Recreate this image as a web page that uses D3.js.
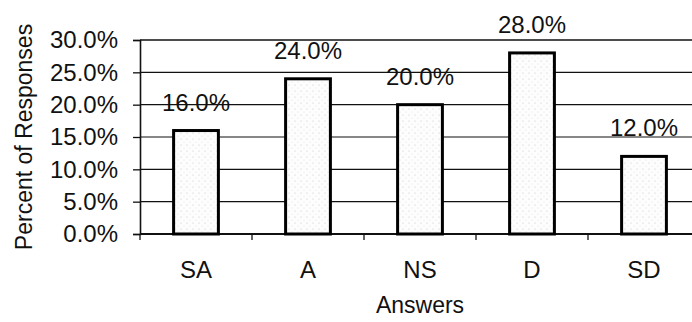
<!DOCTYPE html>
<html>
<head>
<meta charset="utf-8">
<script src="https://cdn.jsdelivr.net/npm/d3@7"></script>
<style>
  html, body { margin: 0; padding: 0; background: #fff; }
  svg { display: block; font-family: "Liberation Sans", Arial, sans-serif; }
</style>
</head>
<body>
<svg id="chart" width="692" height="322"></svg>
<script>
// Survey answer distribution
const categories = ["SA", "A", "NS", "D", "SD"];
const percents = [16.0, 24.0, 20.0, 28.0, 12.0];
const yTicks = [0, 5, 10, 15, 20, 25, 30];
const yTitle = "Percent of Responses";
const xTitle = "Answers";

const svg = d3.select("#chart");
const W = 692, H = 322;
const plot = { left: 140, right: 700, top: 40, bottom: 234 };

const x = d3.scaleBand()
  .domain(categories)
  .range([plot.left, plot.right])
  .paddingInner(0.6)
  .paddingOuter(0.3);

const y = d3.scaleLinear()
  .domain([0, 30])
  .range([plot.bottom, plot.top]);

const fmt = v => v.toFixed(1) + "%";

// light speckled fill for the bars
const defs = svg.append("defs");
const pat = defs.append("pattern")
  .attr("id", "speckle")
  .attr("patternUnits", "userSpaceOnUse")
  .attr("width", 6).attr("height", 6);
pat.append("rect").attr("width", 6).attr("height", 6).attr("fill", "#fdfdfd");
pat.append("circle").attr("cx", 1).attr("cy", 1).attr("r", 0.6).attr("fill", "#c8c8c8");
pat.append("circle").attr("cx", 4).attr("cy", 4).attr("r", 0.5).attr("fill", "#dddddd");

// horizontal gridlines
svg.append("g")
  .selectAll("line")
  .data(yTicks.filter(d => d > 0))
  .join("line")
  .attr("x1", plot.left).attr("x2", W)
  .attr("y1", d => y(d)).attr("y2", d => y(d))
  .attr("stroke", "#111")
  .attr("stroke-width", d => d === 30 ? 1.6 : 1.2);

// y axis
const yAxis = svg.append("g")
  .attr("transform", `translate(${plot.left},0)`)
  .call(d3.axisLeft(y).tickValues(yTicks).tickFormat(fmt).tickSize(7).tickPadding(15));
yAxis.select(".domain").attr("stroke", "#111").attr("stroke-width", 1.6);
yAxis.selectAll(".tick line").attr("stroke", "#111").attr("stroke-width", 1.3);
yAxis.selectAll(".tick text")
  .attr("font-size", 24).attr("fill", "#111")
  .attr("font-family", "Liberation Sans, Arial, sans-serif");

// x axis with boundary ticks between categories
const xAxisG = svg.append("g")
  .attr("transform", `translate(0,${plot.bottom})`);
xAxisG.append("line")
  .attr("x1", plot.left).attr("x2", W)
  .attr("stroke", "#111").attr("stroke-width", 2);
xAxisG.selectAll("line.tick")
  .data(categories.map((c, i) => plot.left + i * x.step()))
  .join("line")
  .attr("class", "tick")
  .attr("x1", d => d).attr("x2", d => d)
  .attr("y1", 0).attr("y2", 6)
  .attr("stroke", "#111").attr("stroke-width", 1.3);
xAxisG.selectAll("text")
  .data(categories)
  .join("text")
  .attr("x", d => x(d) + x.bandwidth() / 2)
  .attr("y", 44)
  .attr("text-anchor", "middle")
  .attr("font-size", 24)
  .attr("fill", "#111")
  .text(d => d);

// bars
svg.append("g")
  .selectAll("rect")
  .data(categories.map((c, i) => ({ c, v: percents[i] })))
  .join("rect")
  .attr("x", d => x(d.c))
  .attr("y", d => y(d.v))
  .attr("width", x.bandwidth())
  .attr("height", d => y(0) - y(d.v))
  .attr("fill", "url(#speckle)")
  .attr("stroke", "#000")
  .attr("stroke-width", 3);

// value labels
svg.append("g")
  .selectAll("text")
  .data(categories.map((c, i) => ({ c, v: percents[i] })))
  .join("text")
  .attr("x", d => x(d.c) + x.bandwidth() / 2)
  .attr("y", d => y(d.v) - 20)
  .attr("text-anchor", "middle")
  .attr("font-size", 24)
  .attr("fill", "#111")
  .text(d => fmt(d.v));

// axis titles
svg.append("text")
  .attr("transform", `translate(32,${(plot.top + plot.bottom) / 2}) rotate(-90)`)
  .attr("text-anchor", "middle")
  .attr("font-size", 23)
  .attr("fill", "#111")
  .text(yTitle);

svg.append("text")
  .attr("x", (plot.left + plot.right) / 2)
  .attr("y", 313)
  .attr("text-anchor", "middle")
  .attr("font-size", 23)
  .attr("fill", "#111")
  .text(xTitle);
</script>
</body>
</html>
